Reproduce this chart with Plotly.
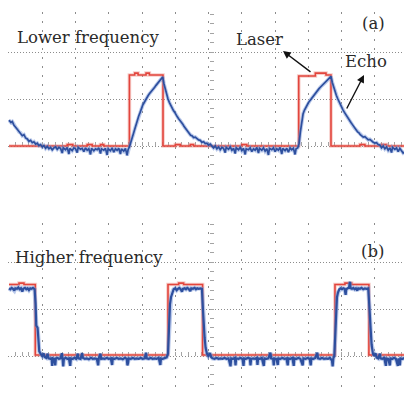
import plotly.graph_objects as go

# ---------------- data (time in divisions, amplitude in divisions) ----------------
LASER_A_T = [0, 1.75, 1.92, 2.35, 2.5, 2.75, 2.85, 3.62, 3.78, 3.88, 4.12, 4.22,
             4.63, 5.0, 5.15, 5.45, 5.55, 7.0, 7.15, 8.71, 9.21, 9.53,
             9.68, 10.55, 10.7, 11.2, 11.35, 11.9]
LASER_A_V = [0, 0.03, 0, 0.03, 0, 0.03, 0, 1.51, 1.55, 1.51, 1.55, 1.51,
             0, 0.03, 0, 0.03, 0, 0.03, 0, 1.49, 1.55, 1.51,
             0, 0.03, 0, 0.03, 0, 0]

ECHO_A_T = [0.00, 0.06, 0.10, 0.15, 0.20, 0.25, 0.30, 0.35, 0.40, 0.45, 0.50, 0.55, 0.60, 0.65,
            0.70, 0.75, 0.80, 0.85, 0.90, 0.95, 1.00,
            1.05, 1.10, 1.15, 1.20, 1.25, 1.30, 1.35, 1.40, 1.45, 1.50, 1.55, 1.60, 1.63, 1.70,
            1.75, 1.80, 1.83, 1.90, 1.95, 2.00, 2.05, 2.08, 2.15, 2.20, 2.25, 2.30, 2.35, 2.40,
            2.45, 2.48, 2.55, 2.60, 2.65, 2.70, 2.75, 2.78, 2.85, 2.90, 2.95, 2.98, 3.05, 3.10,
            3.15, 3.20, 3.25, 3.30, 3.35, 3.38, 3.45, 3.50, 3.55, 3.58,
            3.62, 3.66, 3.70, 3.74, 3.78, 3.82, 3.86, 3.90, 3.94, 3.98, 4.02, 4.06, 4.10, 4.14,
            4.18, 4.22, 4.26, 4.30, 4.34, 4.38, 4.42, 4.46, 4.50, 4.54, 4.58, 4.62,
            4.66, 4.70, 4.74, 4.78, 4.82, 4.86, 4.90, 4.94, 4.98, 5.02, 5.06, 5.10, 5.14, 5.18,
            5.22, 5.26, 5.30, 5.34, 5.38, 5.42, 5.46, 5.50, 5.55, 5.60, 5.65, 5.70, 5.75, 5.80,
            5.85, 5.90, 5.95, 6.00, 6.05, 6.10,
            6.15, 6.20, 6.25, 6.30, 6.35, 6.40, 6.45, 6.50, 6.53, 6.60, 6.65, 6.70, 6.75, 6.80,
            6.83, 6.90, 6.95, 7.00, 7.05, 7.10, 7.13, 7.20, 7.25, 7.30, 7.35, 7.40, 7.45, 7.50,
            7.53, 7.60, 7.65, 7.70, 7.75, 7.80, 7.83, 7.90, 7.95, 8.00, 8.05, 8.10, 8.15, 8.20,
            8.23, 8.30, 8.35, 8.40, 8.45, 8.50, 8.55, 8.60, 8.63, 8.68,
            8.72, 8.76, 8.80, 8.84, 8.88, 8.92, 8.96, 9.00, 9.04, 9.08, 9.12, 9.16, 9.20, 9.24,
            9.28, 9.32, 9.36, 9.40, 9.44, 9.48, 9.52, 9.56, 9.60, 9.64, 9.68,
            9.72, 9.76, 9.80, 9.84, 9.88, 9.92, 9.96, 10.00, 10.04, 10.08, 10.12, 10.16, 10.20,
            10.24, 10.28, 10.32, 10.36, 10.40, 10.44, 10.48, 10.52, 10.56, 10.60, 10.65, 10.70,
            10.75, 10.80, 10.85, 10.90, 10.95, 11.00, 11.05, 11.10, 11.15, 11.20, 11.25, 11.30,
            11.35, 11.40, 11.45, 11.50, 11.53, 11.60, 11.65, 11.70, 11.75, 11.80, 11.85, 11.90]
ECHO_A_V = [0.55, 0.50, 0.52, 0.44, 0.40, 0.36, 0.30, 0.28, 0.22, 0.24, 0.17, 0.15, 0.10, 0.12,
            0.07, 0.09, 0.04, 0.06, 0.01, 0.03, -0.02,
            0.01, -0.05, -0.01, -0.06, -0.03, -0.08, -0.04, -0.02, -0.07, -0.03, -0.05, -0.15, -0.04, -0.08,
            -0.03, -0.17, -0.05, -0.10, -0.04, -0.06, -0.14, -0.03, -0.07, -0.05, -0.12, -0.04, -0.09, -0.06,
            -0.18, -0.05, -0.10, -0.06, -0.08, -0.04, -0.16, -0.06, -0.09, -0.05, -0.19, -0.06, -0.10, -0.04,
            -0.13, -0.06, -0.09, -0.05, -0.17, -0.06, -0.11, -0.05, -0.20, -0.08,
            -0.02, 0.08, 0.15, 0.25, 0.36, 0.45, 0.55, 0.64, 0.71, 0.80, 0.87, 0.92, 0.98, 1.03,
            1.07, 1.11, 1.14, 1.19, 1.22, 1.25, 1.29, 1.33, 1.36, 1.40, 1.43, 1.47,
            1.32, 1.19, 1.09, 1.00, 0.93, 0.86, 0.82, 0.76, 0.72, 0.66, 0.62, 0.58, 0.55, 0.50,
            0.47, 0.42, 0.38, 0.34, 0.30, 0.27, 0.23, 0.22, 0.18, 0.19, 0.15, 0.13, 0.12, 0.08,
            0.09, 0.05, 0.06, 0.02, 0.04, -0.01,
            -0.04, 0.00, -0.06, -0.02, -0.08, -0.03, -0.05, -0.14, -0.03, -0.07, -0.02, -0.09, -0.05, -0.16,
            -0.04, -0.08, -0.03, -0.10, -0.05, -0.18, -0.06, -0.08, -0.04, -0.12, -0.06, -0.09, -0.03, -0.15,
            -0.05, -0.09, -0.04, -0.11, -0.06, -0.19, -0.05, -0.08, -0.04, -0.12, -0.06, -0.09, -0.03, -0.17,
            -0.05, -0.10, -0.05, -0.13, -0.04, -0.08, -0.05, -0.18, -0.06, -0.04,
            0.05, 0.30, 0.55, 0.68, 0.76, 0.82, 0.87, 0.92, 0.96, 1.00, 1.04, 1.08, 1.11, 1.15,
            1.18, 1.22, 1.25, 1.28, 1.30, 1.33, 1.36, 1.39, 1.42, 1.45, 1.48,
            1.35, 1.25, 1.16, 1.08, 1.01, 0.94, 0.88, 0.82, 0.77, 0.72, 0.67, 0.63, 0.58,
            0.55, 0.50, 0.46, 0.41, 0.37, 0.34, 0.30, 0.28, 0.24, 0.22, 0.19, 0.20,
            0.16, 0.13, 0.14, 0.10, 0.08, 0.06, 0.07, 0.03, 0.02, -0.04, 0.00, -0.06,
            -0.02, -0.09, -0.04, -0.14, -0.03, -0.07, -0.04, -0.12, -0.05, -0.10, -0.15, -0.13]

LASER_B_T = [0, 0.3, 0.45, 0.79, 4.78, 5.1, 5.25, 5.82, 9.80, 10.1, 10.3, 10.82, 11.9]
LASER_B_V = [1.52, 1.55, 1.52, 0.02, 1.52, 1.55, 1.52, 0.02, 1.52, 1.55, 1.52, 0.02, 0.02]

ECHO_B_T = [0.00, 0.04, 0.08, 0.12, 0.16, 0.19, 0.24, 0.28, 0.32, 0.36, 0.40, 0.43, 0.48, 0.52,
            0.56, 0.60, 0.64, 0.68, 0.72, 0.77,
            0.80, 0.82, 0.86, 0.88, 0.91, 0.95,
            1.00, 1.04, 1.07, 1.12, 1.16, 1.19, 1.24, 1.28, 1.30, 1.32, 1.36, 1.39, 1.41, 1.46,
            1.50, 1.55, 1.59, 1.61, 1.63, 1.65, 1.70, 1.75, 1.80, 1.84, 1.86, 1.92, 1.97, 2.02,
            2.07, 2.09, 2.15, 2.20, 2.22, 2.28, 2.34, 2.40, 2.46, 2.52, 2.58, 2.64, 2.68, 2.70,
            2.75, 2.77, 2.82, 2.88, 2.94, 3.00, 3.06, 3.10, 3.12, 3.18, 3.24, 3.30, 3.36, 3.42,
            3.48, 3.54, 3.56, 3.58, 3.60, 3.66, 3.72, 3.78, 3.84, 3.90, 3.96, 4.02, 4.08, 4.12,
            4.14, 4.20, 4.26, 4.32, 4.38, 4.44, 4.50, 4.55, 4.57, 4.62, 4.68, 4.74,
            4.78, 4.81, 4.84, 4.87, 4.91, 4.95,
            5.00, 5.04, 5.08, 5.12, 5.16, 5.20, 5.23, 5.28, 5.32, 5.36, 5.40, 5.45, 5.48, 5.53,
            5.58, 5.62, 5.66, 5.70, 5.75, 5.80,
            5.83, 5.85, 5.88, 5.91, 5.95, 5.99,
            6.04, 6.08, 6.12, 6.18, 6.24, 6.30, 6.36, 6.42, 6.48, 6.54, 6.60, 6.66, 6.68, 6.74,
            6.79, 6.81, 6.83, 6.90, 6.96, 7.02, 7.05, 7.07, 7.12, 7.18, 7.24, 7.26, 7.28, 7.34,
            7.40, 7.45, 7.47, 7.49, 7.55, 7.60, 7.66, 7.68, 7.74, 7.80, 7.86, 7.88, 7.94, 7.96,
            7.98, 8.04, 8.08, 8.10, 8.16, 8.22, 8.28, 8.34, 8.38, 8.40, 8.46, 8.52, 8.56, 8.58,
            8.64, 8.70, 8.76, 8.83, 8.85, 8.92, 8.98, 9.04, 9.07, 9.09, 9.15, 9.21, 9.27, 9.29,
            9.35, 9.41, 9.47, 9.53, 9.59, 9.65, 9.71, 9.73, 9.75, 9.78,
            9.81, 9.83, 9.86, 9.89, 9.93, 9.97,
            10.01, 10.05, 10.09, 10.12, 10.14, 10.18, 10.22, 10.25, 10.27, 10.31, 10.35, 10.39,
            10.43, 10.47, 10.50, 10.55, 10.60, 10.65, 10.70, 10.75, 10.80,
            10.83, 10.85, 10.87, 10.90, 10.94, 10.98,
            11.02, 11.05, 11.10, 11.15, 11.17, 11.22, 11.28, 11.33, 11.35, 11.40, 11.45, 11.47,
            11.53, 11.58, 11.63, 11.69, 11.71, 11.75, 11.77, 11.83, 11.90]
ECHO_B_V = [1.44, 1.42, 1.45, 1.43, 1.39, 1.44, 1.43, 1.46, 1.42, 1.44, 1.37, 1.43, 1.45, 1.42,
            1.44, 1.40, 1.44, 1.43, 1.45, 1.42,
            1.10, 0.65, 0.60, 0.30, 0.10, 0.05,
            0.00, 0.06, -0.02, -0.04, 0.05, -0.05, -0.06, -0.04, -0.21, -0.05, -0.06, -0.20, -0.05, -0.04,
            -0.06, -0.05, 0.06, -0.05, -0.22, -0.06, -0.04, -0.06, -0.05, -0.21, -0.05, -0.06, -0.04, -0.06,
            0.05, -0.05, -0.06, 0.06, -0.04, -0.06, -0.05, -0.07, -0.04, -0.06, -0.05, -0.06, -0.20, -0.05,
            0.05, -0.06, -0.05, -0.06, -0.04, -0.06, -0.05, -0.19, -0.05, -0.06, -0.04, -0.06, -0.05, -0.07,
            -0.04, -0.06, -0.20, -0.15, -0.05, -0.06, -0.04, -0.06, -0.05, -0.06, -0.04, -0.06, -0.05, 0.07,
            -0.05, -0.06, -0.04, -0.06, -0.05, -0.06, -0.04, -0.19, -0.05, -0.06, -0.04, -0.03,
            0.05, 0.60, 1.10, 1.25, 1.36, 1.42,
            1.44, 1.40, 1.43, 1.45, 1.42, 1.37, 1.43, 1.44, 1.42, 1.45, 1.43, 1.38, 1.44, 1.43,
            1.45, 1.42, 1.44, 1.43, 1.44, 1.43,
            1.00, 0.62, 0.40, 0.18, 0.05, 0.00,
            0.06, -0.03, -0.05, -0.06, -0.04, -0.06, -0.05, -0.06, -0.04, -0.06, -0.05, -0.22, -0.05, -0.06,
            -0.04, -0.20, -0.05, -0.06, -0.04, -0.06, -0.21, -0.05, -0.06, -0.04, -0.05, -0.20, -0.06, -0.05,
            -0.06, -0.04, -0.19, -0.05, -0.06, -0.04, -0.21, -0.05, -0.06, -0.05, 0.07, -0.05, -0.06, -0.20,
            -0.05, -0.06, -0.19, -0.05, -0.06, -0.04, -0.06, -0.05, -0.20, -0.05, -0.06, -0.04, -0.21, -0.05,
            -0.06, -0.04, -0.06, -0.20, -0.05, -0.06, -0.04, -0.06, -0.20, -0.05, -0.06, -0.04, 0.07, -0.05,
            -0.06, -0.04, -0.06, -0.05, -0.06, -0.04, -0.10, -0.22, -0.05, 0.00,
            0.40, 0.90, 1.25, 1.35, 1.42, 1.44,
            1.42, 1.44, 1.43, 1.30, 1.42, 1.44, 1.45, 1.58, 1.44, 1.43, 1.45, 1.42,
            1.44, 1.39, 1.44, 1.43, 1.45, 1.42, 1.44, 1.43, 1.44,
            1.10, 0.65, 0.60, 0.25, 0.05, 0.00,
            0.06, -0.03, -0.05, 0.05, -0.05, -0.06, -0.04, -0.21, -0.05, -0.06, -0.20, -0.05,
            -0.06, -0.04, -0.06, -0.21, -0.05, -0.20, -0.05, -0.06, -0.04]

LABELS = {"a_title": "Lower frequency", "b_title": "Higher frequency",
          "a_tag": "(a)", "b_tag": "(b)", "laser": "Laser", "echo": "Echo"}

# ---------------- styling / geometry ----------------
W, H = 404, 393
RED, BLUE = "#e2453d", "#2d4f9e"
RED_HALO, BLUE_HALO = "rgba(235,130,120,0.4)", "rgba(120,150,215,0.5)"
GRID = "#8c8c8c"
TICK = "#a4a4a4"
XR = [-0.03, 11.875]
X_DOM = [8 / W, 1.0]


def py(px):
    return 1 - px / H


def px_x(div):
    return (X_DOM[0] * W + (div - XR[0]) * (W - X_DOM[0] * W) / (XR[1] - XR[0])) / W


YR_A = [(146 - 185) / 47, (146 - 12) / 47]
YR_B = [-(393 - 356) / 47, (356 - 223) / 47]
DOM_A = [py(185), py(12)]
DOM_B = [0.0, py(223)]

fig = go.Figure()


def add_pair(t, v, xa, ya, color, halo, width, shape="linear"):
    fig.add_trace(go.Scatter(x=t, y=v, xaxis=xa, yaxis=ya, mode="lines",
                             line=dict(color=halo, width=width + 2, shape=shape),
                             hoverinfo="skip", showlegend=False))
    fig.add_trace(go.Scatter(x=t, y=v, xaxis=xa, yaxis=ya, mode="lines",
                             line=dict(color=color, width=width, shape=shape),
                             showlegend=False))


add_pair(LASER_A_T, LASER_A_V, "x", "y", RED, RED_HALO, 1.6, "hv")
add_pair(ECHO_A_T, ECHO_A_V, "x", "y", BLUE, BLUE_HALO, 1.7)
add_pair(LASER_B_T, LASER_B_V, "x2", "y2", RED, RED_HALO, 1.6, "hv")
add_pair(ECHO_B_T, ECHO_B_V, "x2", "y2", BLUE, BLUE_HALO, 2.2)


def xaxis_main(center_px):
    return dict(domain=X_DOM, range=XR, tickmode="linear", tick0=0, dtick=1,
                showgrid=True, gridcolor=GRID, gridwidth=1, griddash="2px,7px",
                zeroline=False, showline=False, showticklabels=False,
                anchor="free", position=py(center_px), ticks="inside", ticklen=4,
                tickcolor=TICK, tickwidth=1, layer="below traces",
                minor=dict(ticks="inside", dtick=0.2, tick0=0, ticklen=4, tickcolor=TICK,
                           showgrid=False))


def yaxis_main(dom, rng):
    return dict(domain=dom, range=rng, tickmode="linear", tick0=0, dtick=1,
                showgrid=True, gridcolor=GRID, gridwidth=1, griddash="1px,2px",
                zeroline=False, showline=False, showticklabels=False,
                anchor="free", position=px_x(6), ticks="inside", ticklen=4,
                tickcolor=TICK, tickwidth=1, layer="below traces",
                minor=dict(ticks="inside", dtick=0.2, tick0=0, ticklen=4, tickcolor=TICK,
                           showgrid=False))


fig.update_layout(
    width=W, height=H, margin=dict(l=0, r=0, t=0, b=0),
    paper_bgcolor="white", plot_bgcolor="rgba(0,0,0,0)", showlegend=False,
    xaxis=xaxis_main(146),
    xaxis2=xaxis_main(356),
    yaxis=yaxis_main(DOM_A, YR_A),
    yaxis2=yaxis_main(DOM_B, YR_B),
)

FONT = dict(family="DejaVu Serif", size=16.5, color="#2a2a2a")
ann = [
    dict(text=LABELS["a_title"], x=15 / W, y=py(38), xanchor="left", yanchor="middle"),
    dict(text=LABELS["b_title"], x=13 / W, y=py(257), xanchor="left", yanchor="middle"),
    dict(text=LABELS["a_tag"], x=373 / W, y=py(24), xanchor="center", yanchor="middle"),
    dict(text=LABELS["b_tag"], x=372 / W, y=py(251), xanchor="center", yanchor="middle"),
    dict(text=LABELS["laser"], x=259 / W, y=py(39), xanchor="center", yanchor="middle"),
    dict(text=LABELS["echo"], x=366 / W, y=py(62), xanchor="center", yanchor="middle"),
]
for a in ann:
    fig.add_annotation(xref="paper", yref="paper", showarrow=False, font=FONT, **a)

for hx, hy, tx, ty in ((283, 51, 312, 73), (364, 75, 346, 110)):
    fig.add_annotation(xref="paper", yref="paper", x=hx / W, y=py(hy), text="",
                       showarrow=True, ax=tx - hx, ay=ty - hy, arrowhead=2,
                       arrowsize=1.1, arrowwidth=1.4, arrowcolor="#111111", standoff=0)

fig.write_html("out.html")
